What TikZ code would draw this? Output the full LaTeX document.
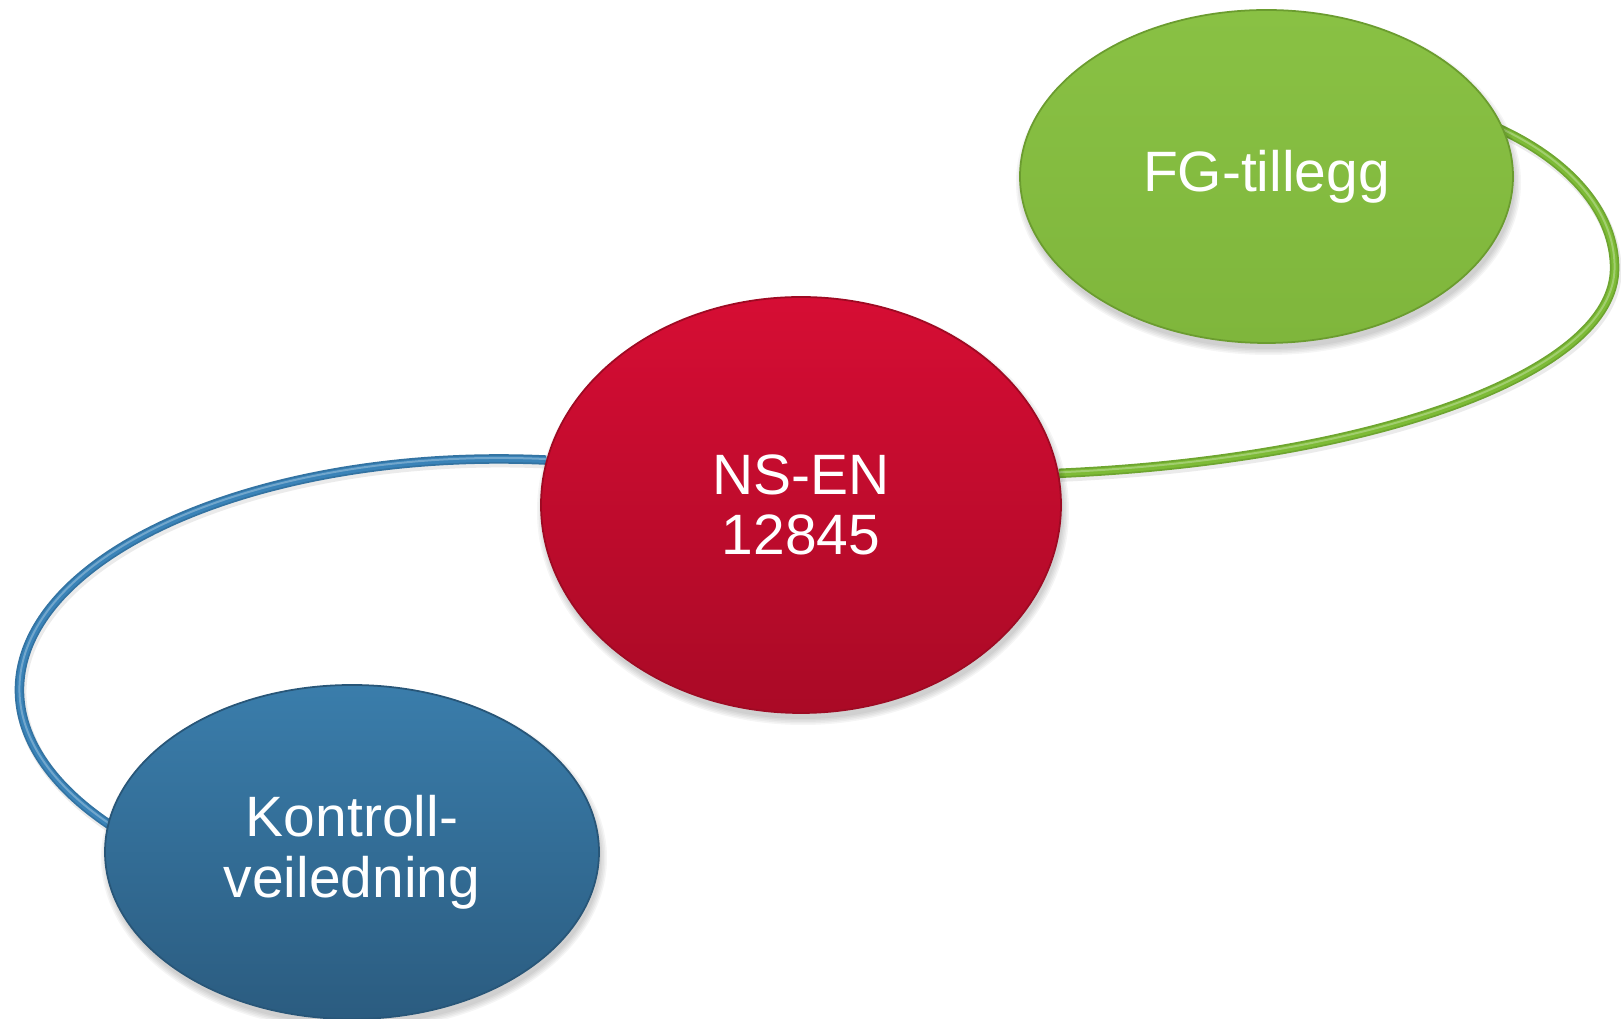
\documentclass[tikz,border=0pt]{standalone}
\usepackage{fontspec}
\setmainfont{Liberation Sans}
\usetikzlibrary{shapes.geometric,backgrounds}
\definecolor{fgtop}{HTML}{89C144}
\definecolor{fgbot}{HTML}{7FB63C}
\definecolor{fgline}{HTML}{6B9C2F}
\definecolor{nstop}{HTML}{D60D34}
\definecolor{nsbot}{HTML}{AA0A26}
\definecolor{nsline}{HTML}{9E0A23}
\definecolor{kvtop}{HTML}{3A7DAB}
\definecolor{kvbot}{HTML}{2B5C80}
\definecolor{kvline}{HTML}{285678}
\definecolor{kvtube}{HTML}{3A83B8}
\definecolor{fgtube}{HTML}{7DBB36}
\begin{document}
\begin{tikzpicture}[line join=round,
		bubble/.style={ellipse, inner sep=0pt, align=center, text=white, line width=0.5pt, font=\fontsize{16.2}{17.3}\selectfont},
		tube/.style={draw=#1!88!black, line width=0.095cm, line cap=butt,
			preaction={draw=black, opacity=0.08, line width=0.11cm, transform canvas={xshift=0.015cm, yshift=-0.03cm}},
			postaction={draw=#1, line width=0.06cm},
			postaction={draw=#1!72!white, line width=0.02cm, transform canvas={yshift=0.01cm}}}]
	\useasboundingbox (0,0) rectangle (16.21,10.19);
	\node[bubble, top color=fgtop, bottom color=fgbot, draw=fgline, minimum width=4.93cm, minimum height=3.33cm] (fg) at (12.665,8.425) {FG-tillegg};
	\node[bubble, top color=nstop, bottom color=nsbot, draw=nsline, minimum width=5.2cm, minimum height=4.16cm] (ns) at (8.01,5.14) {NS-EN\\12845};
	\node[bubble, top color=kvtop, bottom color=kvbot, draw=kvline, minimum width=4.94cm, minimum height=3.34cm] (kv) at (3.52,1.67) {Kontroll-\\veiledning};
	\begin{scope}[on background layer]
		% tubes go under the bubbles
		\draw[tube=kvtube] (ns.170) arc[start angle=84.4, end angle=222, x radius=4.8, y radius=2.31];
		\draw[tube=fgtube] (ns.7) arc[start angle=-82.2, end angle=0, x radius=6.43, y radius=2.07] arc[start angle=0, end angle=62, x radius=3.0, y radius=1.77];
		\foreach \n/\rx/\ry in {fg/2.465/1.665, ns/2.6/2.08, kv/2.47/1.67}
		\foreach \k in {0,...,4}
		\fill[black, opacity=0.04] ([xshift=0.02cm, yshift=-0.06cm]\n.center) ellipse[x radius=\rx+0.015*\k, y radius=\ry+0.015*\k];
	\end{scope}
\end{tikzpicture}
\end{document}
